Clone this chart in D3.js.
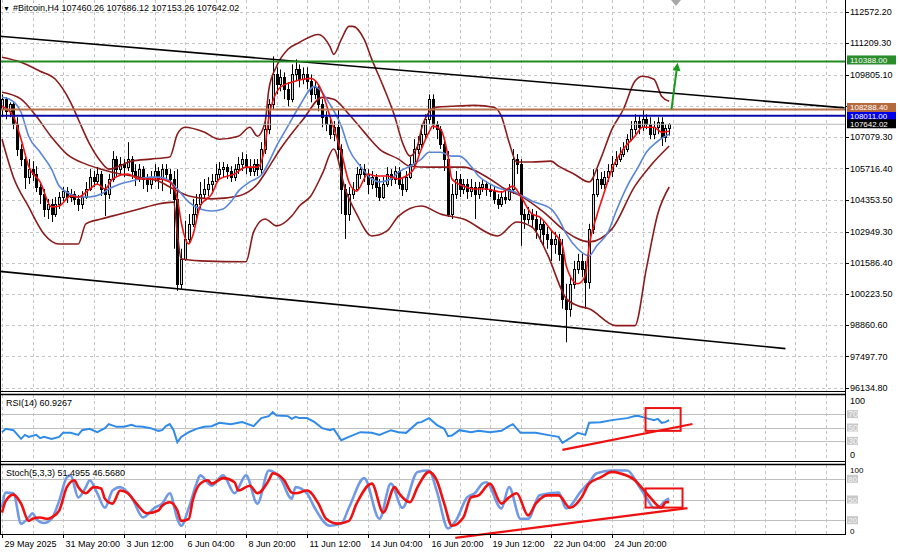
<!DOCTYPE html>
<html><head><meta charset="utf-8">
<script src="https://cdn.jsdelivr.net/npm/d3@7"></script>
<style>
body{margin:0;background:#fff}
svg{display:block}
text{font-family:"Liberation Sans",Arial,sans-serif;font-size:9px;fill:#000}
</style></head>
<body><svg id="c" width="900" height="555"></svg>
<script>
// ---------- DATA ----------
const symbolTitle = "#Bitcoin,H4";
const lastOHLC = ["107460.26","107686.12","107153.26","107642.02"];
const timeLabels = ["29 May 2025","31 May 20:00","3 Jun 12:00","6 Jun 04:00","8 Jun 20:00","11 Jun 12:00","14 Jun 04:00","16 Jun 20:00","19 Jun 12:00","22 Jun 04:00","24 Jun 20:00"];
const timeLabelIdx = [0,16,32,48,64,80,96,112,128,144,160];
const priceTicks = [112572.20,111209.30,109805.10,108442.20,107079.30,105716.40,104353.50,102949.30,101586.40,100223.50,98860.60,97497.70,96134.80];
const hiddenTick = 108442.20; // label covered by the object labels in the reference

const openP = [108300,108740,108210,108520,107640,106560,106120,105330,105680,105470,
104900,104590,103940,104160,103720,104160,104460,104720,104460,104590,
104380,104160,104460,104810,105330,105160,105470,104810,104590,105250,
106120,105680,105900,105770,106120,105600,105330,105680,105250,105030,
105330,105600,105250,105680,105470,105250,104380,100670,101760,102630,
103290,103720,104160,104590,104810,105030,105160,105470,105680,105770,
105600,105330,105680,105900,106120,105770,105600,105900,105680,106560,
107430,108520,109820,109390,109690,109170,108740,109820,110040,109610,
109820,109520,108950,109260,108520,107950,107640,107210,107510,106560,
104810,103720,104590,104810,105470,105680,105470,105030,105330,104900,
104460,105030,105470,105250,105600,105030,104810,105330,105900,106560,
106770,107210,107860,108740,107640,107430,106770,106120,103720,104590,
105250,104810,105030,104720,104900,104590,104900,105030,104810,104720,
104380,104160,104460,104380,104810,106120,105900,103720,103500,103720,
103500,103070,103290,102850,102630,102410,102630,101980,100020,99580,
100670,101320,101670,101320,100760,103070,104590,105250,105030,105330,
105600,105900,106120,106340,106560,106990,107430,107780,107510,107860,
107640,107210,107510,107730,107080,107460.26];
const highP = [108950,108820,108600,108650,107950,106770,106340,106120,106030,105810,
105030,104810,104380,104380,104460,104680,104900,104900,104810,104720,
104550,104720,105120,105680,105600,105770,105600,105030,105470,106470,
106250,106210,106120,106860,106250,105900,105900,105810,105470,105600,
105900,105770,105900,105900,105680,105600,105680,102200,103420,103720,
104380,104590,105120,105250,105330,105470,105900,105990,105990,105900,
105810,105900,106210,106420,106340,106120,106120,106120,106860,107730,
108740,110610,110130,110040,109910,109480,110260,110480,110260,110130,
110130,109820,109520,109390,108740,108210,107860,107780,108300,106770,
105030,104900,105120,105770,105900,105900,105680,105600,105470,105250,
105330,105770,105680,105810,105770,105330,105600,106210,106990,107120,
107640,108080,108950,108950,107780,107560,106990,106470,105030,105600,
105470,105250,105250,105250,105120,105120,105250,105160,105030,104900,
104590,104720,104720,105030,106560,106340,106120,103940,104030,103940,
103850,103590,103420,103150,102980,102940,102850,102630,100670,101020,
101670,101980,101980,101670,103290,105680,105680,105550,105600,105900,
106250,106470,106640,106860,107210,107780,108080,107990,108300,108080,
107950,107780,107950,107950,107640,107686.12];
const lowP = [107950,107860,107950,107430,106250,105810,104810,105030,105160,104680,
104160,103590,103500,103370,103590,103940,104290,104200,104240,104110,
103850,103940,104380,104720,104900,104990,104510,103630,104380,105120,
105330,105470,105330,105600,105250,104940,105120,104810,104680,104810,
105120,104810,104720,105160,104590,102200,100360,100450,101670,102410,
103150,103500,103940,104380,104510,104720,105120,105250,105330,105250,
105120,105160,105470,105600,105470,105380,105380,105380,105470,106340,
107210,108300,108950,109080,108740,108430,108600,109520,109260,109390,
109170,108600,108740,108210,107510,107340,106990,106900,106120,103720,
102630,103420,104380,104720,105250,105120,104590,104810,104460,104290,
104380,104900,104940,105030,104810,104510,104680,105250,105770,106340,
106560,106990,107640,107430,106990,106560,105600,103590,103500,104380,
104460,104590,104380,104460,103500,104380,104680,104510,104460,104160,
103940,104030,104160,104290,104590,105470,102330,103070,103290,103150,
102630,102500,102330,102200,101670,101980,101670,99580,98110,99230,
100450,101110,100970,99580,100450,102850,104460,104810,104810,105120,
105330,105770,105990,106210,106420,106900,107210,107210,107340,107430,
106990,106990,107210,106690,106860,107153.26];
const closeP = [108740,108210,108520,107640,106560,106120,105330,105680,105470,104900,
104590,103940,104160,103720,104160,104460,104720,104460,104590,104380,
104160,104460,104810,105330,105160,105470,104810,104590,105250,106120,
105680,105900,105770,106120,105600,105330,105680,105250,105030,105330,
105600,105250,105680,105470,105250,104380,100670,101760,102630,103290,
103720,104160,104590,104810,105030,105160,105470,105680,105770,105600,
105330,105680,105900,106120,105770,105600,105900,105680,106560,107430,
108520,109820,109390,109690,109170,108740,109820,110040,109610,109820,
109520,108950,109260,108520,107950,107640,107210,107510,106560,104810,
103720,104590,104810,105470,105680,105470,105030,105330,104900,104460,
105030,105470,105250,105600,105030,104810,105330,105900,106560,106770,
107210,107860,108740,107640,107430,106770,106120,103720,104590,105250,
104810,105030,104720,104900,104590,104900,105030,104810,104720,104380,
104160,104460,104380,104810,106120,105900,103720,103500,103720,103500,
103070,103290,102850,102630,102410,102630,101980,100020,99580,100670,
101320,101670,101320,100760,103070,104590,105250,105030,105330,105600,
105900,106120,106340,106560,106990,107430,107780,107510,107860,107640,
107210,107510,107730,107080,107460,107642.02];

// fast MA (red)
const maFastIdx = [0,3,5,7,10,13,15,18,20,23,25,27,29,33,36,39,41,44,46,47,49,50,52,55,57,61,64,67,69,70,73,76,79,81,84,86,89,91,93,96,98,101,104,106,108,110,112,113,115,117,118,121,124,127,131,134,136,139,141,144,147,148,151,153,154,156,158,160,163,166,168,171,173,175];
const maFastVal = [108430,107990,106990,105810,105120,104030,104070,104510,104460,104810,105030,104810,105250,105470,105250,105250,105250,105120,104380,103370,102410,102760,104070,104590,105250,105470,105770,105770,106690,107950,109260,109480,109610,109650,109040,107990,106420,105120,104720,105470,105380,105380,105250,105380,105680,106560,107300,107560,107430,106250,105250,104940,104810,104810,104680,104940,104510,103720,103590,103020,102330,101450,100670,101020,102330,103630,104680,105680,106560,107120,107510,107510,107300,107340];
// slow MA (blue)
const maSlowIdx = [0,2,5,7,10,13,15,18,20,23,26,28,31,34,36,39,41,44,46,49,52,55,58,60,62,65,68,70,72,75,78,82,83,86,89,91,94,97,99,102,104,107,110,112,115,118,120,123,125,128,131,134,136,139,144,146,148,151,154,156,159,161,164,167,169,172,175];
const maSlowVal = [108820,108740,108170,107120,106420,105680,104940,104590,104460,104460,104590,104810,105030,105160,105250,105330,105330,105160,104810,104240,103940,103850,103940,104240,104720,105120,105420,105990,106690,107560,108430,109300,109210,108520,107560,106560,105810,105250,105120,105250,105550,105810,106120,106420,106420,106250,106250,105810,105380,105030,104810,104720,104550,104290,103940,103500,102850,102200,101890,102330,102940,103810,104940,105810,106420,106900,107210];
// upper band
const bandUpIdx = [0,5,10,14,18,20,23,26,28,34,39,44,46,48,53,57,62,65,67,69,70,72,75,78,83,86,87,89,91,92,95,97,100,103,105,107,109,110,112,114,118,124,129,131,133,135,139,144,146,150,154,157,160,163,166,168,171,173,175];
const bandUpVal = [110570,110350,109960,109610,108600,107860,106770,105990,105680,106030,106120,106210,107210,107510,107300,106990,107120,107510,107120,107730,109170,110170,110920,111220,111570,111050,110700,111350,111920,111920,111350,110480,109300,107990,106860,106250,106690,107430,108170,108390,108430,108470,108390,107990,106860,105990,105990,106030,105810,105470,105120,106120,107430,108300,109520,109740,109610,108870,108650];
// middle maroon line
const bandMidIdx = [0,5,9,13,17,22,26,31,36,41,45,49,55,62,67,70,73,79,84,87,91,95,99,104,107,112,121,128,132,136,142,148,154,160,166,170,175];
const bandMidVal = [109040,108740,107990,107080,106340,105900,105680,105470,105330,105160,104810,104510,104380,104510,105030,105770,106560,107860,108820,108740,108080,107300,106560,106120,105810,105770,105770,105250,104810,104510,103810,102940,102500,103070,104940,105810,106690];
// lower band
const bandLowIdx = [0,3,7,11,15,20,22,26,31,36,41,45,46,47,52,64,66,69,72,76,78,81,84,87,90,93,97,101,104,110,115,121,130,135,139,143,148,151,154,161,166,169,172,175];
const bandLowVal = [106990,105330,104030,102850,102410,102410,103290,103500,103720,103940,104160,104240,102850,101760,101670,101630,102940,103500,103200,103630,104070,104510,105470,106560,104810,103720,102760,102980,103630,104070,103720,103500,102760,103370,103150,101980,100020,99710,99580,98840,98840,101320,103720,104900];

// RSI(14)
const rsiIdx = [0,1,3,5,6,7,9,10,11,13,15,16,18,20,21,23,25,27,28,30,32,34,35,37,39,41,42,43,44,45,46,47,49,51,53,55,57,60,62,63,66,68,70,71,72,75,76,77,78,80,82,84,86,87,89,91,94,97,99,102,104,106,109,110,112,114,116,117,118,120,123,125,128,131,133,134,136,138,140,143,146,147,149,151,153,154,157,160,164,166,167,169,171,172,173,174,175];
const rsiVal = [43,48,46,33,39,36,39,34,36,33,36,42,42,39,46,48,43,49,55,51,51,54,52,51,49,45,46,52,55,46,28,36,43,48,51,52,57,55,57,58,52,64,67,73,68,67,63,66,64,64,58,49,46,48,31,36,43,42,39,46,43,42,57,58,64,54,48,37,38,46,43,45,43,45,52,55,42,42,42,39,36,27,34,42,39,57,58,61,64,67,67,64,61,63,57,58,60.9267];
const rsiLevels = [70,50,30];

// Stochastic(5,3,3)
const stochKIdx = [0,1,3,5,7,8,9,11,13,15,17,18,20,22,23,25,27,29,31,34,37,40,42,44,46,47,49,51,52,55,58,61,64,67,70,73,76,77,80,82,86,89,91,95,99,102,105,109,112,114,117,119,122,124,126,127,131,133,136,138,141,146,148,152,154,156,160,164,167,169,171,172,174,175];
const stochKVal = [38,60,59,15,24,30,22,16,22,48,82,85,53,68,78,59,38,63,68,53,24,38,44,59,22,12,38,73,85,70,85,59,85,44,92,81,51,68,59,38,12,15,38,81,22,73,38,90,92,63,8,19,53,59,73,75,37,68,22,22,56,60,37,63,75,88,92,92,70,53,38,38,48.5,51.4955];
const stochDIdx = [0,1,3,5,7,8,10,12,13,15,17,19,20,22,24,26,27,29,31,33,35,38,41,42,44,46,47,49,50,52,54,55,58,61,62,65,67,70,71,74,76,77,80,83,85,88,91,93,97,100,103,104,107,109,112,114,116,118,121,123,125,128,131,133,135,138,140,143,146,149,152,154,157,160,162,166,168,170,173,174,175];
const stochDVal = [31,48,57,44,19,22,24,22,24,34,68,78,68,59,68,66,51,44,63,59,46,30,34,41,46,34,19,22,48,73,78,73,81,75,63,70,59,78,88,78,60,59,63,44,22,15,19,44,73,31,68,60,46,68,90,78,44,12,24,53,56,73,44,53,59,27,44,56,56,38,53,73,82,90,88,78,66,53,38,45.6,46.568];
const stochLevels = [80,50,20];

// drawn objects (bar index, value)
const upperTrend = [[-1,111500],[221,108360]];
const lowerTrend = [[-0.5,101210],[205.5,97835]];
const hLevels = [110388.00,108288.40,108011.00];
const bidPrice = 107642.02;
const arrowPts = [[175.6,108290],[177.2,110330]];
const rsiBox = [168.8,178,79,45];
const rsiTrend = [[147,16.7],[181.1,55.2]];
const stochBox = [168.8,178.5,66,38.3];
const stochTrend = [[118.9,-5.6],[179.8,37.6]];

// ---------- SCALES ----------
const svg = d3.select('#c');
const AX = 845;
const x = d3.scaleLinear().domain([0,16]).range([2,63]);
const y = d3.scaleLinear().domain([96134.8,112572.2]).range([387.5,11.5]);
const yR = d3.scaleLinear().domain([0,100]).range([461,394]);
const yS = d3.scaleLinear().domain([0,100]).range([534,465]);

const defs = svg.append('defs');
defs.append('clipPath').attr('id','cm').append('rect').attr('x',0).attr('y',0).attr('width',AX).attr('height',391);
defs.append('clipPath').attr('id','cr').append('rect').attr('x',0).attr('y',395).attr('width',AX).attr('height',66);
defs.append('clipPath').attr('id','cs').append('rect').attr('x',0).attr('y',465).attr('width',AX).attr('height',69);

// ---------- GRID ----------
const grid = svg.append('g');
d3.range(0,224,8).forEach(i=>{
  const xx = Math.round(x(i))+0.5; if (xx>AX) return;
  [[0,391],[395,461],[465,534]].forEach(([a,b])=>{
    grid.append('line').attr('x1',xx).attr('x2',xx).attr('y1',a).attr('y2',b)
      .attr('stroke','#c4c4c4').attr('stroke-dasharray','3,3');
  });
});
priceTicks.forEach(v=>{
  const yy = Math.round(y(v))+0.5;
  grid.append('line').attr('x1',0).attr('x2',AX).attr('y1',yy).attr('y2',yy)
    .attr('stroke','#c4c4c4').attr('stroke-dasharray','3,3');
});
rsiLevels.forEach(v=>{
  const yy = Math.round(yR(v))+0.5;
  grid.append('line').attr('x1',0).attr('x2',AX).attr('y1',yy).attr('y2',yy).attr('stroke','#c0c0c0');
});
stochLevels.forEach(v=>{
  const yy = Math.round(yS(v))+0.5;
  grid.append('line').attr('x1',0).attr('x2',AX).attr('y1',yy).attr('y2',yy).attr('stroke','#c0c0c0');
});

// ---------- CANDLES ----------
const cg = svg.append('g').attr('clip-path','url(#cm)');
closeP.forEach((c,i)=>{
  const o=openP[i], h=highP[i], l=lowP[i];
  const xx = Math.round(x(i));
  cg.append('line').attr('x1',xx+0.5).attr('x2',xx+0.5).attr('y1',y(h)).attr('y2',y(l)).attr('stroke','#000').attr('stroke-width',1);
  const top = Math.round(y(Math.max(o,c))), bot = Math.round(y(Math.min(o,c)));
  const bull = c>=o;
  cg.append('rect').attr('x',xx-0.5).attr('y',top+0.5).attr('width',2).attr('height',Math.max(bot-top,1))
    .attr('fill',bull?'#d8d8d8':'#000').attr('stroke','#000').attr('stroke-width',1);
});

// ---------- INDICATOR LINES ----------
const zip = (a,b)=>a.map((i,k)=>({i, v:b[k]}));
const lineMain = d3.line().x(d=>x(d.i)).y(d=>y(d.v)).curve(d3.curveMonotoneX);
const ig = svg.append('g').attr('clip-path','url(#cm)');
[[bandUpIdx,bandUpVal],[bandMidIdx,bandMidVal],[bandLowIdx,bandLowVal]].forEach(([a,b])=>{
  ig.append('path').attr('d',lineMain(zip(a,b))).attr('fill','none').attr('stroke','#8b1c1c').attr('stroke-width',1.6);
});
ig.append('path').attr('d',lineMain(zip(maSlowIdx,maSlowVal))).attr('fill','none').attr('stroke','#5a86d8').attr('stroke-width',1.6);
ig.append('path').attr('d',lineMain(zip(maFastIdx,maFastVal))).attr('fill','none').attr('stroke','#f01010').attr('stroke-width',1.6);

// ---------- OBJECTS MAIN ----------
const og = svg.append('g').attr('clip-path','url(#cm)');
const segLine = d3.line().x(d=>x(d[0])).y(d=>y(d[1]));
og.append('path').attr('d',segLine(upperTrend)).attr('stroke','#000').attr('stroke-width',1.6).attr('fill','none');
og.append('path').attr('d',segLine(lowerTrend)).attr('stroke','#000').attr('stroke-width',1.6).attr('fill','none');
const levelColors = ['#228b22','#b8734c','#0a0aa8'];
hLevels.forEach((v,k)=>{
  og.append('line').attr('x1',0).attr('x2',AX).attr('y1',y(v)).attr('y2',y(v)).attr('stroke',levelColors[k]).attr('stroke-width',2);
});
og.append('line').attr('x1',0).attr('x2',AX).attr('y1',y(bidPrice)).attr('y2',y(bidPrice)).attr('stroke','#b8b8b8').attr('stroke-width',1);
// arrow
{
  const [p0,p1] = arrowPts;
  const x0=x(p0[0]), y0=y(p0[1]), x1=x(p1[0]), y1=y(p1[1]);
  const ang = Math.atan2(y1-y0,x1-x0);
  const hl=8, hw=4;
  const bx = x1 - hl*Math.cos(ang), by = y1 - hl*Math.sin(ang);
  og.append('line').attr('x1',x0).attr('y1',y0).attr('x2',bx).attr('y2',by).attr('stroke','#1a9a1a').attr('stroke-width',2);
  const px = -Math.sin(ang)*hw, py = Math.cos(ang)*hw;
  og.append('path').attr('d',`M${x1},${y1}L${bx+px},${by+py}L${bx-px},${by-py}Z`).attr('fill','#1a9a1a');
}
// chart shift marker
svg.append('path').attr('d','M671,0L681,0L676,6Z').attr('fill','#a8a8a8');

// ---------- RSI ----------
const rg = svg.append('g').attr('clip-path','url(#cr)');
const lineR = d3.line().x(d=>x(d.i)).y(d=>yR(d.v));
rg.append('path').attr('d',lineR(zip(rsiIdx,rsiVal))).attr('fill','none').attr('stroke','#2f8ae8').attr('stroke-width',2);
svg.append('rect').attr('x',x(rsiBox[0])).attr('y',yR(rsiBox[2])).attr('width',x(rsiBox[1])-x(rsiBox[0])).attr('height',yR(rsiBox[3])-yR(rsiBox[2]))
  .attr('fill','none').attr('stroke','#ee1111').attr('stroke-width',2);
svg.append('path').attr('d',d3.line().x(d=>x(d[0])).y(d=>yR(d[1]))(rsiTrend)).attr('stroke','#ee1111').attr('stroke-width',2.2).attr('fill','none');

// ---------- STOCH ----------
const sg = svg.append('g').attr('clip-path','url(#cs)');
const lineS = d3.line().x(d=>x(d.i)).y(d=>yS(d.v)).curve(d3.curveMonotoneX);
sg.append('path').attr('d',lineS(zip(stochKIdx,stochKVal))).attr('fill','none').attr('stroke','#7299e4').attr('stroke-width',2.6);
sg.append('path').attr('d',lineS(zip(stochDIdx,stochDVal))).attr('fill','none').attr('stroke','#ee1111').attr('stroke-width',2.6);
svg.append('rect').attr('x',x(stochBox[0])).attr('y',yS(stochBox[2])).attr('width',x(stochBox[1])-x(stochBox[0])).attr('height',yS(stochBox[3])-yS(stochBox[2]))
  .attr('fill','none').attr('stroke','#ee1111').attr('stroke-width',2);
svg.append('path').attr('d',d3.line().x(d=>x(d[0])).y(d=>yS(d[1]))(stochTrend)).attr('stroke','#ee1111').attr('stroke-width',2.2).attr('fill','none');

// ---------- FRAMES ----------
const fr = svg.append('g').attr('stroke','#000');
fr.append('line').attr('x1',0.5).attr('x2',0.5).attr('y1',0).attr('y2',534);
fr.append('line').attr('x1',AX+0.5).attr('x2',AX+0.5).attr('y1',0).attr('y2',535);
fr.append('line').attr('x1',0).attr('x2',AX).attr('y1',391.5).attr('y2',391.5);
fr.append('line').attr('x1',0).attr('x2',AX).attr('y1',394.5).attr('y2',394.5).attr('stroke-width',1.5);
fr.append('line').attr('x1',0).attr('x2',AX).attr('y1',461.5).attr('y2',461.5);
fr.append('line').attr('x1',0).attr('x2',AX).attr('y1',464.5).attr('y2',464.5).attr('stroke-width',1.5);
fr.append('line').attr('x1',0).attr('x2',AX).attr('y1',534.5).attr('y2',534.5);

// ---------- AXES / LABELS ----------
const ax = svg.append('g');
priceTicks.forEach(v=>{
  const yy = y(v);
  ax.append('line').attr('x1',AX).attr('x2',AX+4).attr('y1',Math.round(yy)+0.5).attr('y2',Math.round(yy)+0.5).attr('stroke','#000');
  if (v === hiddenTick) return;
  ax.append('text').attr('x',850).attr('y',yy+3.2).text(d3.format('.2f')(v));
});
timeLabelIdx.forEach((i,k)=>{
  const xx = Math.round(x(i))+0.5;
  ax.append('line').attr('x1',xx).attr('x2',xx).attr('y1',534).attr('y2',538).attr('stroke','#000');
  ax.append('text').attr('x',xx+2).attr('y',547).text(timeLabels[k]);
});
// right-side colored labels (stacked like the reference)
const boxLabels = [
  {v:hLevels[2], bg:'#0000e6', dy:0},
  {v:hLevels[0], bg:'#2a8c2a', dy:-1.5},
  {v:hLevels[1], bg:'#b5693f', dy:-2},
  {v:bidPrice, bg:'#000', dy:-0.5}
];
boxLabels.forEach(b=>{
  const yy = y(b.v) + b.dy;
  ax.append('rect').attr('x',847).attr('y',yy-4.5).attr('width',49).attr('height',9).attr('fill',b.bg);
  ax.append('text').attr('x',850).attr('y',yy+2.8).style('fill','#fff').style('font-size','8px').text(d3.format('.2f')(b.v));
});
// RSI axis
ax.append('text').attr('x',850).attr('y',yR(100)+10).text('100');
ax.append('text').attr('x',850).attr('y',yR(0)-3).text('0');
rsiLevels.forEach(v=>{
  ax.append('rect').attr('x',847).attr('y',yR(v)-4).attr('width',11).attr('height',8).attr('fill','#c8c8c8');
  ax.append('text').attr('x',848).attr('y',yR(v)+3).style('fill','#f4f4f4').text(v);
});
// Stoch axis
ax.append('text').attr('x',850).attr('y',yS(100)+7.5).style('font-size','8px').text('100');
stochLevels.forEach(v=>{
  ax.append('rect').attr('x',847).attr('y',yS(v)-4).attr('width',11).attr('height',8).attr('fill','#c8c8c8');
  ax.append('text').attr('x',848).attr('y',yS(v)+3).style('fill','#f4f4f4').style('font-size','8px').text(v);
});
ax.append('text').attr('x',850).attr('y',yS(0)-0.5).style('font-size','8px').text('0');

// titles
svg.append('text').attr('x',3).attr('y',11).style('font-size','7px').text('▼');
svg.append('text').attr('x',13).attr('y',11).text(symbolTitle + '  ' + lastOHLC.join(' '));
svg.append('text').attr('x',6).attr('y',406).text('RSI(14) ' + rsiVal[rsiVal.length-1].toFixed(4));
svg.append('text').attr('x',6).attr('y',476).text('Stoch(5,3,3) ' + stochKVal[stochKVal.length-1].toFixed(4) + ' ' + stochDVal[stochDVal.length-1].toFixed(4));
</script>
</body></html>
